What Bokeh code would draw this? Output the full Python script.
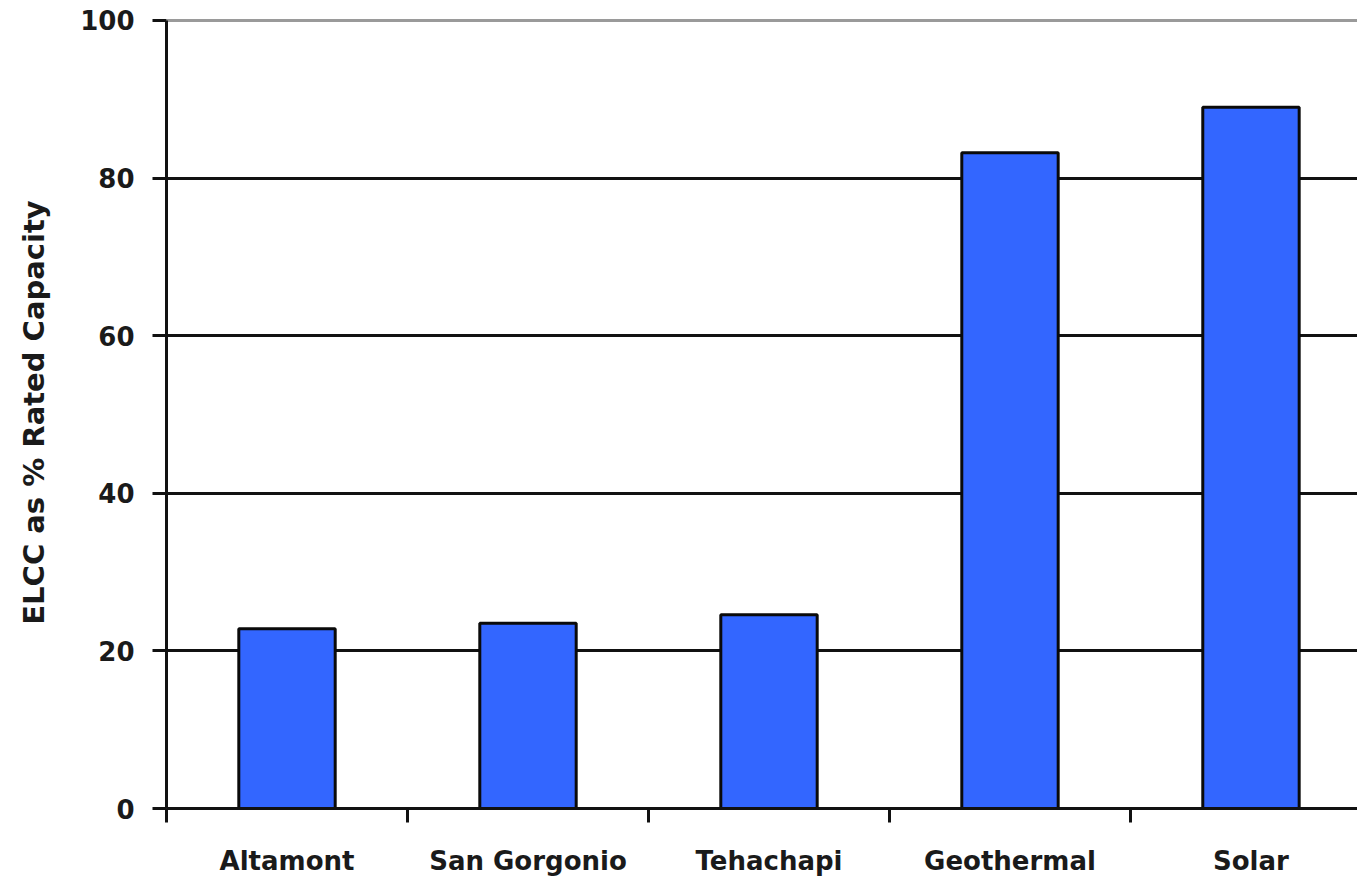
from bokeh.plotting import figure
from bokeh.models import FixedTicker, Range1d, Grid, ColumnDataSource
from bokeh.embed import file_html
from bokeh.resources import INLINE

# Effective load carrying capability by resource
categories = ["Altamont", "San Gorgonio", "Tehachapi", "Geothermal", "Solar"]
elcc_pct = [22.8, 23.5, 24.6, 83.2, 89.0]
y_ticks = [0, 20, 40, 60, 80, 100]

centers = [i + 0.5 for i in range(len(categories))]
boundaries = list(range(len(categories) + 1))

src = ColumnDataSource(dict(x=centers, top=elcc_pct, name=categories))

FONT = "DejaVu Sans"
TXT = "#1a1a1a"

p = figure(
    width=1357, height=878,
    output_backend="svg", toolbar_location=None,
    x_range=Range1d(0, 4.942), y_range=Range1d(0, 100.5),
    min_border_left=166, min_border_right=0,
    min_border_top=16, min_border_bottom=69,
)
p.outline_line_color = None
p.background_fill_color = "white"
p.border_fill_color = "white"

# grid: black lines for interior ticks, gray line on top
p.xgrid.visible = False
p.ygrid.ticker = FixedTicker(ticks=[20, 40, 60, 80])
p.ygrid.grid_line_color = "#111111"
p.ygrid.grid_line_width = 3
top_grid = Grid(dimension=1, ticker=FixedTicker(ticks=[100]),
                grid_line_color="#9a9a9a", grid_line_width=3)
p.add_layout(top_grid)

p.vbar(x="x", top="top", bottom=0, width=0.40, source=src,
       fill_color="#3366FF", line_color="#0a0a0a", line_width=3)

# y axis
ya = p.yaxis[0]
ya.ticker = FixedTicker(ticks=y_ticks)
ya.bounds = (0, 100)
ya.axis_line_width = 3
ya.axis_line_color = "#111111"
ya.major_tick_line_width = 3
ya.major_tick_line_color = "#111111"
ya.major_tick_out = 14
ya.major_tick_in = 0
ya.minor_tick_line_color = None
ya.major_label_standoff = 18
ya.major_label_text_font = FONT
ya.major_label_text_font_size = "26px"
ya.major_label_text_font_style = "bold"
ya.major_label_text_color = TXT
ya.axis_label = "ELCC as % Rated Capacity"
ya.axis_label_text_font = FONT
ya.axis_label_text_font_size = "29px"
ya.axis_label_text_font_style = "bold"
ya.axis_label_text_color = TXT
ya.axis_label_standoff = 26

# x axis: labels at category centers, ticks at category boundaries
xa = p.xaxis[0]
xa.ticker = FixedTicker(ticks=centers, minor_ticks=boundaries)
xa.major_label_overrides = {c: n for c, n in zip(centers, categories)}
xa.axis_line_width = 3
xa.axis_line_color = "#111111"
xa.major_tick_line_color = None
xa.major_tick_out = 0
xa.major_tick_in = 0
xa.minor_tick_line_color = "#111111"
xa.minor_tick_line_width = 3
xa.minor_tick_out = 14
xa.minor_tick_in = 0
xa.major_label_standoff = 23
xa.major_label_text_font = FONT
xa.major_label_text_font_size = "26px"
xa.major_label_text_font_style = "bold"
xa.major_label_text_color = TXT

open("out.html", "w").write(file_html(p, INLINE))
